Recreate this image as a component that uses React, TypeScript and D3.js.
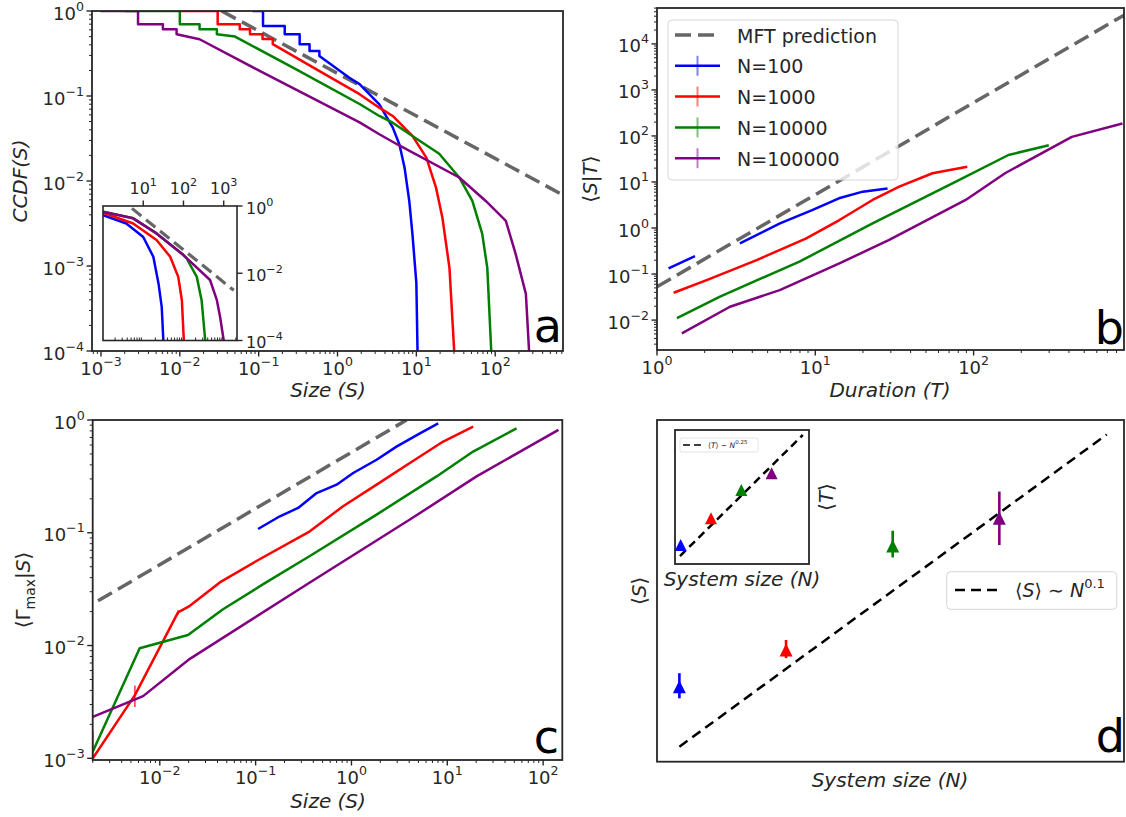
import React from "react";
import * as d3 from "d3";

const FONT = "'DejaVu Sans', sans-serif";
const INK = "#262626";
const C_BLUE = "#0000ff";
const C_RED = "#ff0000";
const C_GREEN = "#008000";
const C_PURPLE = "#800080";
const C_MFT = "#666666";

// ===== Panel a : CCDF(S) =====
const aBlueS = [0.0839, 0.1135, 0.1135, 0.214, 0.214, 0.331, 0.331, 0.442, 0.442, 0.589, 0.589, 1.413, 1.905, 3.39, 5.01, 6.1, 7.08, 8.13, 8.91, 10.0, 10.35];
const aBlueP = [1, 1, 0.667, 0.667, 0.532, 0.532, 0.407, 0.407, 0.339, 0.339, 0.295, 0.164, 0.138, 0.0798, 0.0427, 0.0269, 0.01445, 0.00582, 0.0024, 0.00063, 0.0001];
const aRedS = [0.01, 0.0302, 0.0302, 0.0575, 0.0575, 0.0776, 0.0776, 0.112, 0.112, 0.151, 0.151, 0.501, 1.905, 3.39, 5.01, 8.91, 13.4, 17.8, 21.4, 26.3, 30.2];
const aRedP = [1, 1, 0.697, 0.697, 0.608, 0.608, 0.532, 0.532, 0.468, 0.468, 0.407, 0.214, 0.105, 0.0729, 0.0582, 0.0339, 0.0188, 0.0083, 0.0037, 0.00095, 0.0001];
const aGreenS = [0.002, 0.01, 0.01, 0.0178, 0.0178, 0.0295, 0.0295, 0.0501, 0.316, 1.905, 3.39, 5.01, 8.91, 19.5, 35.0, 51.3, 68.4, 79.4, 89.1];
const aGreenP = [1, 1, 0.697, 0.697, 0.608, 0.608, 0.532, 0.5, 0.2, 0.0805, 0.0582, 0.0485, 0.0339, 0.0209, 0.011, 0.00582, 0.0024, 0.00095, 0.0001];
const aPurpleS = [0.00098, 0.00295, 0.00295, 0.0061, 0.0061, 0.0091, 0.0091, 0.0178, 0.1, 1.905, 3.39, 5.75, 35.0, 75.9, 136.5, 182, 245, 269];
const aPurpleP = [1, 1, 0.697, 0.697, 0.608, 0.608, 0.532, 0.465, 0.2, 0.049, 0.0355, 0.0269, 0.011, 0.00582, 0.00339, 0.00138, 0.00047, 0.0001];
const aMftS = [0.0339, 1000];
const aMftP = [1, 0.00582];

// inset of panel a
const iBlueS = [1, 3.8, 10, 17.8, 24, 28.8, 31.6];
const iBlueP = [0.537, 0.302, 0.12, 0.0309, 0.0049, 0.001, 0.0001];
const iRedS = [1, 5.62, 21.4, 46.8, 74.1, 91.2, 102];
const iRedP = [0.63, 0.302, 0.0977, 0.0309, 0.0078, 0.00158, 0.0001];
const iGreenS = [1, 5.62, 21.4, 100, 120, 214, 282, 347];
const iGreenP = [0.676, 0.43, 0.153, 0.0347, 0.0275, 0.0078, 0.00158, 0.0001];
const iPurpleS = [1, 5.62, 21.4, 100, 457, 676, 813, 1000];
const iPurpleP = [0.676, 0.43, 0.153, 0.0347, 0.0063, 0.00158, 0.0005, 0.0001];
const iMftS = [5.25, 1778];
const iMftP = [0.85, 0.0031];

// ===== Panel b : <S|T> vs duration =====
const bBlueT = [1.183, 1.738, 2.5, 3.34, 5.98, 9.55, 14.1, 19.95, 28.6];
const bBlueS: (number | null)[] = [0.133, 0.246, null, 0.465, 1.26, 2.45, 4.42, 6.17, 7.24];
const bRedT = [1.274, 2.06, 4.26, 8.77, 14.2, 23.0, 33.9, 55.0, 91.2];
const bRedS = [0.0393, 0.0741, 0.201, 0.597, 1.49, 4.07, 7.94, 15.5, 21.4];
const bGreenT = [1.337, 2.5, 7.94, 23.0, 80.7, 166, 298.5];
const bGreenS = [0.011, 0.0324, 0.186, 1.26, 11.0, 38.6, 63.1];
const bPurpleT = [1.435, 2.89, 5.96, 14.2, 29.3, 89.1, 158, 417, 871];
const bPurpleS = [0.00513, 0.0195, 0.0447, 0.171, 0.55, 4.07, 15.5, 95.5, 186];
const bMftT = [1, 1000];
const bMftS = [0.053, 53000];
const legendLabels = ["MFT prediction", "N=100", "N=1000", "N=10000", "N=100000"];

// ===== Panel c : <Gamma_max|S> =====
const cBlueS = [0.106, 0.179, 0.278, 0.433, 0.7, 1.042, 1.83, 2.95, 5.18, 8.04];
const cBlueG = [0.108, 0.14, 0.166, 0.225, 0.267, 0.339, 0.444, 0.581, 0.762, 0.933];
const cRedS = [0.002, 0.0055, 0.0155, 0.0206, 0.0423, 0.102, 0.368, 0.818, 1.83, 4.07, 9.06, 18.6];
const cRedG = [0.001, 0.00363, 0.0197, 0.0225, 0.0363, 0.0562, 0.103, 0.172, 0.267, 0.415, 0.644, 0.873];
const cRedErrS = [0.002, 0.0055, 0.0155];
const cRedErrLo = [0.001, 0.00285, 0.0188];
const cRedErrHi = [0.00174, 0.00443, 0.0206];
const cGreenS = [0.002, 0.00617, 0.0197, 0.0457, 0.12, 0.368, 1.83, 7.73, 18.6, 52.8];
const cGreenG = [0.00115, 0.00946, 0.0124, 0.021, 0.035, 0.0622, 0.145, 0.316, 0.525, 0.843];
const cPurpleS = [0.002, 0.0067, 0.0206, 0.368, 4.07, 20.2, 144.5];
const cPurpleG = [0.00233, 0.00356, 0.00762, 0.0362, 0.131, 0.316, 0.817];
const cMftS = [0.00227, 3.76];
const cMftG = [0.0249, 1.0];

// ===== Panel d : <S> vs N, inset <T> vs N =====
const dN = [100, 1000, 10000, 100000];
const dColors = [C_BLUE, C_RED, C_GREEN, C_PURPLE];
const dS = [1.248, 1.391, 1.892, 2.053];
const dSlo = [1.206, 1.358, 1.829, 1.897];
const dShi = [1.299, 1.433, 1.979, 2.222];
const dFitN = [100, 1.016e6];
const dFitS = [1.0453, 2.63];
const dInsT = [1.442, 2.41, 4.16, 5.74];
const dInsFitN = [94.8, 1.07e6];
const dInsFitT = [1.166, 12.0];

type LS = d3.ScaleLogarithmic<number, number>;

function majors(s: LS) {
  const [a, b] = s.domain();
  const lo = Math.ceil(Math.log10(Math.min(a, b)) - 1e-6);
  const hi = Math.floor(Math.log10(Math.max(a, b)) + 1e-6);
  return d3.range(lo, hi + 1);
}
function minors(s: LS) {
  const [a, b] = s.domain();
  const mn = Math.min(a, b), mx = Math.max(a, b);
  const out: number[] = [];
  for (let e = Math.floor(Math.log10(mn)); e <= Math.ceil(Math.log10(mx)); e++)
    for (let k = 2; k <= 9; k++) {
      const v = k * Math.pow(10, e);
      if (v >= mn && v <= mx) out.push(v);
    }
  return out;
}

function Pow({ x, y, e, anchor, fs }: any) {
  return (
    <text x={x} y={y} textAnchor={anchor} fontSize={fs} fontFamily={FONT} fill={INK}>
      10
      <tspan dy={-fs * 0.5} fontSize={fs * 0.7}>
        {e < 0 ? "\u2212" + -e : String(e)}
      </tspan>
    </text>
  );
}

function AxisBottom({ s, y, fs = 18, labels = true, majorsOn = true }: any) {
  return (
    <g>
      {minors(s).map((v, i) => (
        <line key={"m" + i} x1={s(v)} x2={s(v)} y1={y} y2={y + 3} stroke={INK} strokeWidth={1} />
      ))}
      {majorsOn &&
        majors(s).map((e) => (
          <line key={"M" + e} x1={s(10 ** e)} x2={s(10 ** e)} y1={y} y2={y + 5.5} stroke={INK} strokeWidth={1.4} />
        ))}
      {labels &&
        majors(s).map((e) => <Pow key={"l" + e} x={s(10 ** e)} y={y + 23.5} e={e} anchor="middle" fs={fs} />)}
    </g>
  );
}
function AxisLeft({ s, x, fs = 18 }: any) {
  return (
    <g>
      {minors(s).map((v, i) => (
        <line key={"m" + i} x1={x} x2={x - 3} y1={s(v)} y2={s(v)} stroke={INK} strokeWidth={1} />
      ))}
      {majors(s).map((e) => (
        <line key={"M" + e} x1={x} x2={x - 5.5} y1={s(10 ** e)} y2={s(10 ** e)} stroke={INK} strokeWidth={1.4} />
      ))}
      {majors(s).map((e) => (
        <Pow key={"l" + e} x={x - 8} y={s(10 ** e) + 8.5} e={e} anchor="end" fs={fs} />
      ))}
    </g>
  );
}

function Frame({ l, r, t, b, w = 1.8 }: any) {
  return <rect x={l} y={t} width={r - l} height={b - t} fill="none" stroke={INK} strokeWidth={w} />;
}

function path(xs: number[], ys: (number | null)[], sx: LS, sy: LS) {
  return (
    d3
      .line<number>()
      .defined((i) => ys[i] != null)
      .x((i) => sx(xs[i]))
      .y((i) => sy(ys[i] as number))(d3.range(xs.length)) || ""
  );
}

function Series({ xs, ys, sx, sy, color, w = 2.5, dash, clip }: any) {
  return (
    <path
      d={path(xs, ys, sx, sy)}
      fill="none"
      stroke={color}
      strokeWidth={w}
      strokeDasharray={dash}
      strokeLinejoin="round"
      clipPath={clip ? `url(#${clip})` : undefined}
    />
  );
}

function tri(cx: number, cy: number, h: number) {
  return `M${cx},${cy - h / 2}L${cx + h / 2},${cy + h / 2}L${cx - h / 2},${cy + h / 2}Z`;
}

const LBL = 20;

export default function App() {
  // ---- scales ----
  const aL = 92, aR = 563, aT = 11, aB = 351;
  const ax = d3.scaleLog().domain([10 ** -3.114, 10 ** 2.86]).range([aL, aR]);
  const ay = d3.scaleLog().domain([1e-4, 1]).range([aB, aT]);
  const iL = 103, iR = 237, iT = 206, iB = 340.5;
  const ix = d3.scaleLog().domain([1, 10 ** 3.33]).range([iL, iR]);
  const iy = d3.scaleLog().domain([1e-4, 1]).range([iB, iT]);

  const bL = 657, bR = 1124, bT = 8, bB = 350;
  const bx = d3.scaleLog().domain([1, 10 ** 2.95]).range([bL, bR]);
  const by = d3.scaleLog().domain([10 ** -2.65, 10 ** 4.78]).range([bB, bT]);

  const cL = 92.7, cR = 562.3, cT = 420, cB = 760;
  const cx = d3.scaleLog().domain([10 ** -2.7, 10 ** 2.2]).range([cL, cR]);
  const cy = d3.scaleLog().domain([10 ** -3.015, 1]).range([cB, cT]);

  const dL = 657, dR = 1124, dT = 420, dB = 761.7;
  const dx = d3.scaleLog().domain([10 ** 1.79, 10 ** 6.169]).range([dL, dR]);
  const dy = d3.scaleLog().domain([1, 10 ** 0.4386]).range([dB, dT]);
  const eL = 675, eR = 809, eT = 430, eB = 564;
  const ex = d3.scaleLog().domain([10 ** 1.812, 10 ** 6.234]).range([eL, eR]);
  const ey = d3.scaleLog().domain([1, 10 ** 1.121]).range([eB, eT]);

  const bSeries = [
    { xs: bBlueT, ys: bBlueS, c: C_BLUE },
    { xs: bRedT, ys: bRedS, c: C_RED },
    { xs: bGreenT, ys: bGreenS, c: C_GREEN },
    { xs: bPurpleT, ys: bPurpleS, c: C_PURPLE },
  ];
  const legColors = [C_MFT, C_BLUE, C_RED, C_GREEN, C_PURPLE];

  return (
    <div>
      <svg
        width={1126}
        height={817}
        style={{ position: "absolute", left: 0, top: 0, background: "#fff" }}
        fontFamily={FONT}
      >
        <defs>
          <clipPath id="clipA"><rect x={aL} y={aT} width={aR - aL} height={aB - aT} /></clipPath>
          <clipPath id="clipI"><rect x={iL} y={iT} width={iR - iL} height={iB - iT} /></clipPath>
          <clipPath id="clipB"><rect x={bL} y={bT} width={bR - bL} height={bB - bT} /></clipPath>
          <clipPath id="clipC"><rect x={cL} y={cT} width={cR - cL} height={cB - cT} /></clipPath>
          <clipPath id="clipD"><rect x={dL} y={dT} width={dR - dL} height={dB - dT} /></clipPath>
          <clipPath id="clipE"><rect x={eL} y={eT} width={eR - eL} height={eB - eT} /></clipPath>
        </defs>
        <rect x={0} y={0} width={1126} height={817} fill="#fff" />

        {/* ================= Panel a ================= */}
        <Series xs={aMftS} ys={aMftP} sx={ax} sy={ay} color={C_MFT} w={3.5} dash="16,7" clip="clipA" />
        <Series xs={aBlueS} ys={aBlueP} sx={ax} sy={ay} color={C_BLUE} clip="clipA" />
        <Series xs={aRedS} ys={aRedP} sx={ax} sy={ay} color={C_RED} clip="clipA" />
        <Series xs={aGreenS} ys={aGreenP} sx={ax} sy={ay} color={C_GREEN} clip="clipA" />
        <Series xs={aPurpleS} ys={aPurpleP} sx={ax} sy={ay} color={C_PURPLE} clip="clipA" />
        <AxisBottom s={ax} y={aB} />
        <AxisLeft s={ay} x={aL} />
        <Frame l={aL} r={aR} t={aT} b={aB} />
        <text x={562} y={342} textAnchor="end" fontSize={46} fill="#000">a</text>
        <text x={328} y={397} textAnchor="middle" fontSize={LBL} fontStyle="italic" fill={INK}>Size (S)</text>
        <text transform={`translate(27,${(aT + aB) / 2}) rotate(-90)`} textAnchor="middle" fontSize={LBL} fontStyle="italic" fill={INK}>
          CCDF(S)
        </text>

        {/* inset a */}
        <rect x={iL} y={iT} width={iR - iL} height={iB - iT} fill="#fff" />
        <Series xs={iMftS} ys={iMftP} sx={ix} sy={iy} color={C_MFT} w={3.2} dash="12,6" clip="clipI" />
        <Series xs={iBlueS} ys={iBlueP} sx={ix} sy={iy} color={C_BLUE} clip="clipI" />
        <Series xs={iRedS} ys={iRedP} sx={ix} sy={iy} color={C_RED} clip="clipI" />
        <Series xs={iGreenS} ys={iGreenP} sx={ix} sy={iy} color={C_GREEN} clip="clipI" />
        <Series xs={iPurpleS} ys={iPurpleP} sx={ix} sy={iy} color={C_PURPLE} clip="clipI" />
        {minors(ix).map((v, i) => (
          <line key={"im" + i} x1={ix(v)} x2={ix(v)} y1={iB} y2={iB - 3} stroke={INK} strokeWidth={1} />
        ))}
        {[1, 2, 3].map((e) => (
          <g key={"it" + e}>
            <line x1={ix(10 ** e)} x2={ix(10 ** e)} y1={iT} y2={iT - 5.5} stroke={INK} strokeWidth={1.4} />
            <Pow x={ix(10 ** e)} y={iT - 12.5} e={e} anchor="middle" fs={16} />
          </g>
        ))}
        {[0, -2, -4].map((e) => (
          <g key={"ir" + e}>
            <line x1={iR} x2={iR + 5.5} y1={iy(10 ** e)} y2={iy(10 ** e)} stroke={INK} strokeWidth={1.4} />
            <Pow x={iR + 9} y={iy(10 ** e) + 7.5} e={e} anchor="start" fs={16} />
          </g>
        ))}
        <Frame l={iL} r={iR} t={iT} b={iB} w={1.6} />

        {/* ================= Panel b ================= */}
        <Series xs={bMftT} ys={bMftS} sx={bx} sy={by} color={C_MFT} w={3.5} dash="16,7" clip="clipB" />
        {bSeries.map((s, i) => (
          <Series key={"bs" + i} xs={s.xs} ys={s.ys} sx={bx} sy={by} color={s.c} clip="clipB" />
        ))}
        <AxisBottom s={bx} y={bB} />
        <AxisLeft s={by} x={bL} />
        {/* legend */}
        <rect x={668} y={20} width={230} height={160} rx={4} fill="#fff" fillOpacity={0.8} stroke="#cccccc" strokeOpacity={0.8} />
        {legendLabels.map((lab, i) => {
          const yy = 35 + i * 30.8;
          return (
            <g key={"lg" + i}>
              {i === 0 ? (
                <line x1={675} x2={720} y1={yy} y2={yy} stroke={C_MFT} strokeWidth={3.5} strokeDasharray="16,7" />
              ) : (
                <g>
                  <line x1={675} x2={720} y1={yy} y2={yy} stroke={legColors[i]} strokeWidth={2.5} />
                  <line x1={697.5} x2={697.5} y1={yy - 10} y2={yy + 10} stroke={legColors[i]} strokeWidth={2} strokeOpacity={0.5} />
                </g>
              )}
              <text x={737} y={yy + 7.5} fontSize={19} fill={INK}>{lab}</text>
            </g>
          );
        })}
        <Frame l={bL} r={bR} t={bT} b={bB} />
        <text x={1124} y={344} textAnchor="end" fontSize={46} fill="#000">b</text>
        <text x={890} y={397} textAnchor="middle" fontSize={LBL} fontStyle="italic" fill={INK}>Duration (T)</text>
        <text transform={`translate(597,${(bT + bB) / 2}) rotate(-90)`} textAnchor="middle" fontSize={LBL} fill={INK}>
          ⟨<tspan fontStyle="italic">S</tspan>|<tspan fontStyle="italic">T</tspan>⟩
        </text>

        {/* ================= Panel c ================= */}
        <Series xs={cMftS} ys={cMftG} sx={cx} sy={cy} color={C_MFT} w={3.5} dash="16,7" clip="clipC" />
        <Series xs={cBlueS} ys={cBlueG} sx={cx} sy={cy} color={C_BLUE} clip="clipC" />
        <Series xs={cRedS} ys={cRedG} sx={cx} sy={cy} color={C_RED} clip="clipC" />
        {cRedErrS.map((v, i) => (
          <line key={"ce" + i} x1={cx(v)} x2={cx(v)} y1={cy(cRedErrLo[i])} y2={cy(cRedErrHi[i])} stroke={C_RED} strokeWidth={1.5} strokeOpacity={0.8} />
        ))}
        <Series xs={cGreenS} ys={cGreenG} sx={cx} sy={cy} color={C_GREEN} clip="clipC" />
        <Series xs={cPurpleS} ys={cPurpleG} sx={cx} sy={cy} color={C_PURPLE} clip="clipC" />
        <AxisBottom s={cx} y={cB} />
        <AxisLeft s={cy} x={cL} />
        <Frame l={cL} r={cR} t={cT} b={cB} />
        <text x={559} y={753} textAnchor="end" fontSize={46} fill="#000">c</text>
        <text x={328} y={808} textAnchor="middle" fontSize={LBL} fontStyle="italic" fill={INK}>Size (S)</text>
        <text transform={`translate(30,${(cT + cB) / 2}) rotate(-90)`} textAnchor="middle" fontSize={LBL} fill={INK}>
          ⟨Γ<tspan fontSize={14} dy={5}>max</tspan>
          <tspan dy={-5}>|</tspan>
          <tspan fontStyle="italic">S</tspan>⟩
        </text>

        {/* ================= Panel d ================= */}
        <Series xs={dFitN} ys={dFitS} sx={dx} sy={dy} color="#000" w={2.5} dash="10,6" clip="clipD" />
        {dN.map((n, i) => (
          <g key={"dp" + i}>
            <line x1={dx(n)} x2={dx(n)} y1={dy(dSlo[i])} y2={dy(dShi[i])} stroke={dColors[i]} strokeWidth={2.6} />
            <path d={tri(dx(n), dy(dS[i]), 13)} fill={dColors[i]} />
          </g>
        ))}
        {/* legend d */}
        <rect x={946.7} y={571.7} width={170} height={37.6} rx={4} fill="#fff" fillOpacity={0.8} stroke="#cccccc" strokeOpacity={0.8} />
        <line x1={955} x2={997} y1={590} y2={590} stroke="#000" strokeWidth={2.5} strokeDasharray="10,6" />
        <text x={1015} y={597} fontSize={19} fill={INK}>
          ⟨<tspan fontStyle="italic">S</tspan>⟩ ∼ <tspan fontStyle="italic">N</tspan>
          <tspan dy={-9} fontSize={13}>0.1</tspan>
        </text>
        {/* inset d */}
        <rect x={eL} y={eT} width={eR - eL} height={eB - eT} fill="#fff" />
        <Series xs={dInsFitN} ys={dInsFitT} sx={ex} sy={ey} color="#000" w={2.5} dash="8,5" clip="clipE" />
        {dN.map((n, i) => (
          <path key={"ep" + i} d={tri(ex(n), ey(dInsT[i]), 12)} fill={dColors[i]} />
        ))}
        <rect x={680} y={438} width={78} height={14} rx={2} fill="#fff" fillOpacity={0.8} stroke="#dddddd" strokeWidth={0.8} />
        <line x1={683} x2={702} y1={445} y2={445} stroke="#000" strokeWidth={1.6} strokeDasharray="7,4" />
        <text x={708} y={447.5} fontSize={7.5} fill={INK}>
          ⟨<tspan fontStyle="italic">T</tspan>⟩ ∼ <tspan fontStyle="italic">N</tspan>
          <tspan dy={-3.5} fontSize={5.5}>0.25</tspan>
        </text>
        <Frame l={eL} r={eR} t={eT} b={eB} w={1.8} />
        <text x={742} y={586} textAnchor="middle" fontSize={LBL} fontStyle="italic" fill={INK}>System size (N)</text>
        <text transform={`translate(833,${(eT + eB) / 2}) rotate(-90)`} textAnchor="middle" fontSize={LBL} fill={INK}>
          ⟨<tspan fontStyle="italic">T</tspan>⟩
        </text>

        <Frame l={dL} r={dR} t={dT} b={dB} />
        <text x={1125} y={752} textAnchor="end" fontSize={46} fill="#000">d</text>
        <text x={890} y={787} textAnchor="middle" fontSize={LBL} fontStyle="italic" fill={INK}>System size (N)</text>
        <text transform={`translate(646,${(dT + dB) / 2}) rotate(-90)`} textAnchor="middle" fontSize={LBL} fill={INK}>
          ⟨<tspan fontStyle="italic">S</tspan>⟩
        </text>
      </svg>
    </div>
  );
}
